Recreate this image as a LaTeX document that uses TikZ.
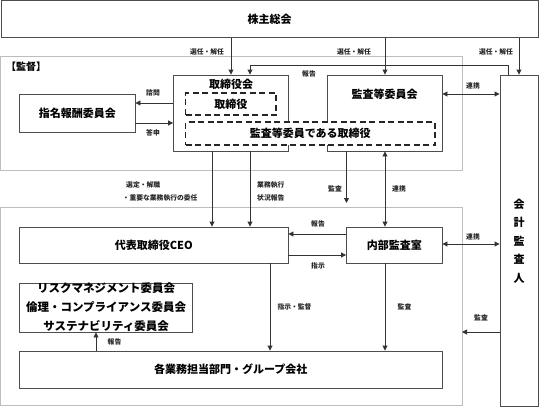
\documentclass[tikz,border=0pt]{standalone}
\usepackage{fontspec}
\setmainfont{Noto Sans CJK JP}
\usetikzlibrary{arrows.meta}
\definecolor{boxline}{HTML}{4D4D4D}
\definecolor{frameline}{HTML}{BDBDBD}
\definecolor{arrline}{HTML}{333333}
\tikzset{
  box/.style={draw=boxline, line width=0.9pt, fill=white, inner sep=0pt, font=\fontsize{11}{13}\selectfont\bfseries},
  frame/.style={draw=frameline, line width=0.9pt},
  dbox/.style={draw=black!85, line width=1.3pt, dash pattern=on 6pt off 3.5pt, fill=white, inner sep=0pt, font=\fontsize{11}{13}\selectfont\bfseries},
  lbl/.style={font=\fontsize{6.8}{9}\selectfont\bfseries, inner sep=0pt, text=black!85},
  arr/.style={draw=arrline, line width=0.9pt, -{Triangle[length=5pt,width=5pt]}},
  darr/.style={draw=arrline, line width=0.9pt, {Triangle[length=5pt,width=5pt]}-{Triangle[length=5pt,width=5pt]}},
}
\begin{document}
\begin{tikzpicture}[x=1pt,y=-1pt]
\useasboundingbox (0,0) rectangle (539,408);
% frames
\draw[frame] (0.5,56) rectangle (462,170);
\draw[frame] (0.5,207) rectangle (462,405);
\node[anchor=west, inner sep=0pt, font=\fontsize{10}{12}\selectfont\bfseries] (kantoku) at (6,67) {【監督】};
% top box
\node[box, minimum width=537pt, minimum height=37pt] (agm) at (269.5,18.8) {株主総会};
% board and audit committee
\node[box, minimum width=114.5pt, minimum height=76pt] (board) at (230.75,113) {};
\node[anchor=center, inner sep=0pt, font=\fontsize{11}{13}\selectfont\bfseries] (boardt) at (231,84) {取締役会};
\node[box, minimum width=115pt, minimum height=76pt] (acb) at (384.5,113) {};
\node[anchor=center, inner sep=0pt, font=\fontsize{11}{13}\selectfont\bfseries] (acbt) at (384.5,94) {監査等委員会};
\node[dbox, minimum width=90.5pt, minimum height=22pt] (dir) at (230.8,104) {取締役};
\node[dbox, minimum width=249.5pt, minimum height=23pt] (acdir) at (310.3,133.5) {監査等委員である取締役};
% nomination
\node[box, minimum width=115.4pt, minimum height=38pt] (nom) at (77.3,113) {指名報酬委員会};
% auditor
\node[box, minimum width=38pt, minimum height=331pt] (aud) at (519,240.5) {};
\node[inner sep=0pt, align=center, font=\fontsize{11}{18.5}\selectfont\bfseries] (audt) at (519,241) {会\\計\\監\\査\\人};
% lower
\node[box, minimum width=268.4pt, minimum height=36pt] (ceo) at (153.8,245) {代表取締役CEO};
\node[box, minimum width=95.5pt, minimum height=36pt] (ia) at (394.25,245) {内部監査室};
\node[box, minimum width=172.9pt, minimum height=49pt, align=center, font=\fontsize{11.5}{19}\selectfont\bfseries] (com) at (106.05,307.5) {リスクマネジメント委員会\\倫理・コンプライアンス委員会\\サステナビリティ委員会};
\node[box, minimum width=422.4pt, minimum height=37pt] (dept) at (230.8,369.5) {各業務担当部門・グループ会社};

% arrows from AGM
\draw[arr] (agm.south -| 231,0) -- (board.north -| 231,0);
\node[lbl] (l1) at (207,52) {選任・解任};
\draw[arr] (agm.south -| 385,0) -- (acb.north -| 385,0);
\node[lbl] (l2) at (354,52) {選任・解任};
\draw[arr] (agm.south -| 519,0) -- (aud.north -| 519,0);
\node[lbl] (l3) at (496,52) {選任・解任};
% report auditor -> board
\draw[arr] (aud.north -| 508,0) -- (508,65) -- (250,65) -- (board.north -| 250,0);
\node[lbl] (l4) at (309,74) {報告};
% liaison acb - aud
\draw[darr] (acb.east |- 0,94) -- (aud.west |- 0,94);
\node[lbl] (l5) at (473,86) {連携};
% board <-> nom
\draw[arr] (board.west |- 0,103) -- (nom.east |- 0,103);
\node[lbl] (l6) at (153,93) {諮問};
\draw[arr] (nom.east |- 0,123) -- (board.west |- 0,123);
\node[lbl] (l7) at (153,133) {答申};
% board -> ceo
\draw[arr] (board.south -| 212,0) -- (ceo.north -| 212,0);
\draw[arr] (board.south -| 250,0) -- (ceo.north -| 250,0);
\node[lbl, anchor=west] (l8) at (126,184.5) {選定・解職};
\node[lbl, anchor=west] (l9) at (122.5,198) {・重要な業務執行の委任};
\node[lbl, anchor=west] (l10) at (257,184.5) {業務執行};
\node[lbl, anchor=west] (l11) at (257,198) {状況報告};
% audit from acb
\coordinate (auend) at (346.5,203);
\draw[arr] (acb.south -| 346.5,0) -- (auend);
\node[lbl] (l12) at (335,189) {監査};
% liaison acb - ia
\draw[darr] (acb.south -| 385,0) -- (ia.north -| 385,0);
\node[lbl, anchor=west] (l13) at (392,189) {連携};
% ceo <-> ia
\draw[arr] (ia.west |- 0,234) -- (ceo.east |- 0,234);
\node[lbl] (l14) at (318,224) {報告};
\draw[arr] (ceo.east |- 0,255) -- (ia.west |- 0,255);
\node[lbl] (l15) at (318,265.5) {指示};
% ia <-> aud
\draw[darr] (ia.east |- 0,244) -- (aud.west |- 0,244);
\node[lbl] (l16) at (473,237) {連携};
% ceo -> dept
\draw[arr] (ceo.south -| 270,0) -- (dept.north -| 270,0);
\node[lbl] (l17) at (294.5,307) {指示・監督};
\draw[arr] (ia.south -| 385,0) -- (dept.north -| 385,0);
\node[lbl] (l18) at (404.5,307) {監査};
% aud audit
\coordinate (audend) at (462,332);
\draw[arr] (aud.west |- 0,332) -- (audend);
\node[lbl] (l19) at (481,318) {監査};
% dept -> com
\draw[arr] (dept.north -| 96,0) -- (com.south -| 96,0);
\node[lbl] (l20) at (114.5,342) {報告};
\end{tikzpicture}
\end{document}
